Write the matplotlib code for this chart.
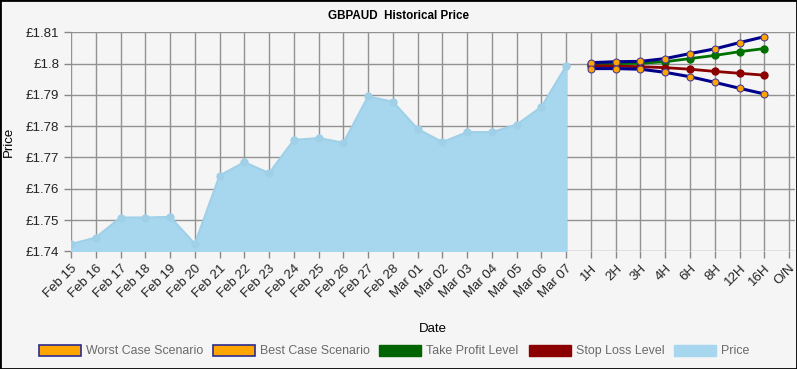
import matplotlib
matplotlib.use("Agg")
import matplotlib.pyplot as plt
from matplotlib.patches import Patch, Rectangle

plt.rcParams['font.family'] = ['Liberation Sans', 'DejaVu Sans']

# --- data ---
dates = ["Feb 15", "Feb 16", "Feb 17", "Feb 18", "Feb 19", "Feb 20", "Feb 21",
         "Feb 22", "Feb 23", "Feb 24", "Feb 25", "Feb 26", "Feb 27", "Feb 28",
         "Mar 01", "Mar 02", "Mar 03", "Mar 04", "Mar 05", "Mar 06", "Mar 07"]
price = [1.7423, 1.7444, 1.7508, 1.7508, 1.7510, 1.7424, 1.7642,
         1.7685, 1.7650, 1.7756, 1.7762, 1.7747, 1.7895, 1.7878,
         1.7791, 1.7749, 1.7781, 1.7781, 1.7805, 1.7862, 1.7993]
horizons = ["1H", "2H", "3H", "4H", "6H", "8H", "12H", "16H", "O/N"]
best_case = [1.8003, 1.8006, 1.8007, 1.8016, 1.8032, 1.8047, 1.8067, 1.8086]
worst_case = [1.7984, 1.7984, 1.7982, 1.7972, 1.7958, 1.7940, 1.7921, 1.7903]
take_profit = [1.8000, 1.8000, 1.8001, 1.8006, 1.8016, 1.8026, 1.8038, 1.8048]
stop_loss = [1.7993, 1.7992, 1.7990, 1.7987, 1.7982, 1.7975, 1.7969, 1.7963]
yticks = [1.74, 1.75, 1.76, 1.77, 1.78, 1.79, 1.80, 1.81]
ytick_labels = ["£1.74", "£1.75", "£1.76", "£1.77", "£1.78", "£1.79", "£1.8", "£1.81"]

labels = dates + horizons
xp = list(range(len(dates)))
xf = list(range(len(dates), len(dates) + len(best_case)))

bg = "#f5f5f5"
fig = plt.figure(figsize=(7.97, 3.69), dpi=100, facecolor=bg)
ax = fig.add_axes([71 / 797, 1 - 251.3 / 369, (795 - 71) / 797, (251.3 - 32.3) / 369])
ax.set_facecolor(bg)

# --- price area ---
ax.fill_between(xp, price, 1.74, color="#a6d7ee", zorder=2)
ax.plot(xp, price, color="#9fd0e8", lw=1.5, marker="o", ms=5,
        mfc="#9fd0e8", mec="#9fd0e8", zorder=3)

# --- forecast lines ---
ax.plot(xf, take_profit, color="#007000", lw=2, marker="o", ms=5, zorder=4)
ax.plot(xf, stop_loss, color="#8b0000", lw=2, marker="o", ms=5, zorder=4)
for s in (best_case, worst_case):
    ax.plot(xf, s, color="#00008b", lw=2.2, marker="o", ms=5,
            mfc="#ffa500", mec="#4b3d8f", mew=0.8, zorder=5)

# --- axes ---
ax.set_xlim(0, len(labels) - 1 + 0.24)
ax.set_ylim(1.74, 1.81)
ax.set_xticks(range(len(labels)))
ax.set_xticklabels(labels, rotation=45, ha="right", rotation_mode="anchor",
                   fontsize=9.5, color="#222222")
ax.set_yticks(yticks)
ax.set_yticklabels(ytick_labels, fontsize=9.5, color="#222222")
ax.tick_params(axis="both", colors="#888888", labelcolor="#222222", length=5, width=1)
ax.tick_params(axis="x", pad=3)
ax.grid(True, color="#929292", lw=1, zorder=0)
ax.set_axisbelow(True)
for sp in ax.spines.values():
    sp.set_visible(False)

fig.text(0.5, 1 - 16 / 369, "GBPAUD  Historical Price", ha="center", va="center",
         fontsize=8.4, fontweight="bold")
fig.text(433 / 797, 1 - 329 / 369, "Date", ha="center", va="center", fontsize=9.5)
fig.text(9 / 797, 1 - 142 / 369, "Price", ha="center", va="center",
         rotation=90, fontsize=9.5)

# --- legend ---
handles = [
    Patch(facecolor="#ffa500", edgecolor="#2b2b8f", lw=1.2, label="Worst Case Scenario"),
    Patch(facecolor="#ffa500", edgecolor="#2b2b8f", lw=1.2, label="Best Case Scenario"),
    Patch(facecolor="#006400", edgecolor="#006400", label="Take Profit Level"),
    Patch(facecolor="#8b0000", edgecolor="#8b0000", label="Stop Loss Level"),
    Patch(facecolor="#a6d7ee", edgecolor="#a6d7ee", label="Price"),
]
leg = fig.legend(handles=handles, loc="center", bbox_to_anchor=(394 / 797, 1 - 351 / 369),
                 ncol=5, frameon=False, fontsize=8.9, handlelength=3.4,
                 handleheight=1.0, handletextpad=0.4, columnspacing=0.8)
for t in leg.get_texts():
    t.set_color("#6a6a6a")

# outer frame
fig.patches.append(Rectangle((0, 0), 1, 1, transform=fig.transFigure, fill=False,
                             edgecolor="black", lw=2))

fig.savefig("out.png", dpi=100, facecolor=bg)
